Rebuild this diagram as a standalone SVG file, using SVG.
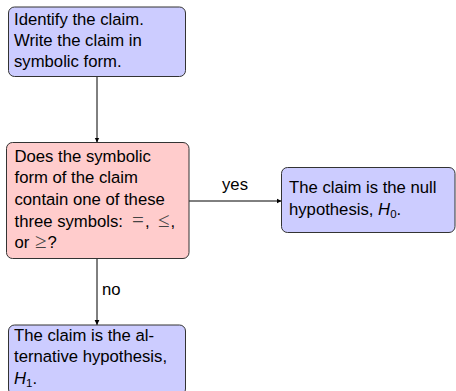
<svg xmlns="http://www.w3.org/2000/svg" width="456" height="391" viewBox="0 0 456 391">
<defs>
<style>
.box{stroke:#333;stroke-width:1}
.blue{fill:#ccccff}
.pink{fill:#ffcccc}
text{font-family:"Liberation Sans",Arial,sans-serif;font-size:16.7px;fill:#000}
.m{font-family:"Liberation Serif","DejaVu Serif",serif;font-size:21px;fill:#444}
.it{font-style:italic}
.edge{stroke:#000;stroke-width:1;fill:none}
</style>
<marker id="arr" markerWidth="6" markerHeight="6" refX="5" refY="3" orient="auto" markerUnits="userSpaceOnUse">
<path d="M0,0.6 L5,3 L0,5.4 Z" fill="#000"/>
</marker>
</defs>
<g id="connectors">
<line class="edge" x1="97" y1="76.5" x2="97" y2="142.5" marker-end="url(#arr)"/>
<line class="edge" x1="189" y1="201" x2="281.5" y2="201" marker-end="url(#arr)"/>
<text x="235" y="190" text-anchor="middle">yes</text>
<line class="edge" x1="97" y1="258.5" x2="97" y2="325" marker-end="url(#arr)"/>
<text x="102" y="295">no</text>
</g>
<g id="identify">
<rect class="box blue" x="8.5" y="7" width="177" height="69.5" rx="6"/>
<text x="14" y="24.5">Identify the claim.</text>
<text x="14" y="45.5">Write the claim in</text>
<text x="14" y="66.5">symbolic form.</text>
</g>
<g id="decision">
<rect class="box pink" x="6.5" y="142.5" width="182.5" height="116" rx="6"/>
<text x="14.5" y="161.7">Does the symbolic</text>
<text x="14.5" y="183.3">form of the claim</text>
<text x="14.5" y="205">contain one of these</text>
<text x="14.5" y="226.7">three symbols:<tspan class="m" x="132">=</tspan><tspan x="145">,</tspan><tspan class="m" x="158">≤</tspan><tspan x="170.5">,</tspan></text>
<text x="14.5" y="248.3">or<tspan class="m" x="35">≥</tspan><tspan x="47.5">?</tspan></text>
</g>
<g id="null">
<rect class="box blue" x="281.5" y="167.5" width="173.5" height="65" rx="6"/>
<text x="289" y="193.3">The claim is the null</text>
<text x="289" y="215">hypothesis, <tspan class="it">H</tspan><tspan font-size="11.5" dy="3">0</tspan><tspan dy="-3">.</tspan></text>
</g>
<g id="alternative">
<rect class="box blue" x="8.5" y="325" width="177" height="70" rx="6"/>
<text x="14" y="340.5">The claim is the al-</text>
<text x="14" y="362">ternative hypothesis,</text>
<text x="14" y="383.5"><tspan class="it">H</tspan><tspan font-size="11.5" dy="3">1</tspan><tspan dy="-3">.</tspan></text>
</g>
</svg>
